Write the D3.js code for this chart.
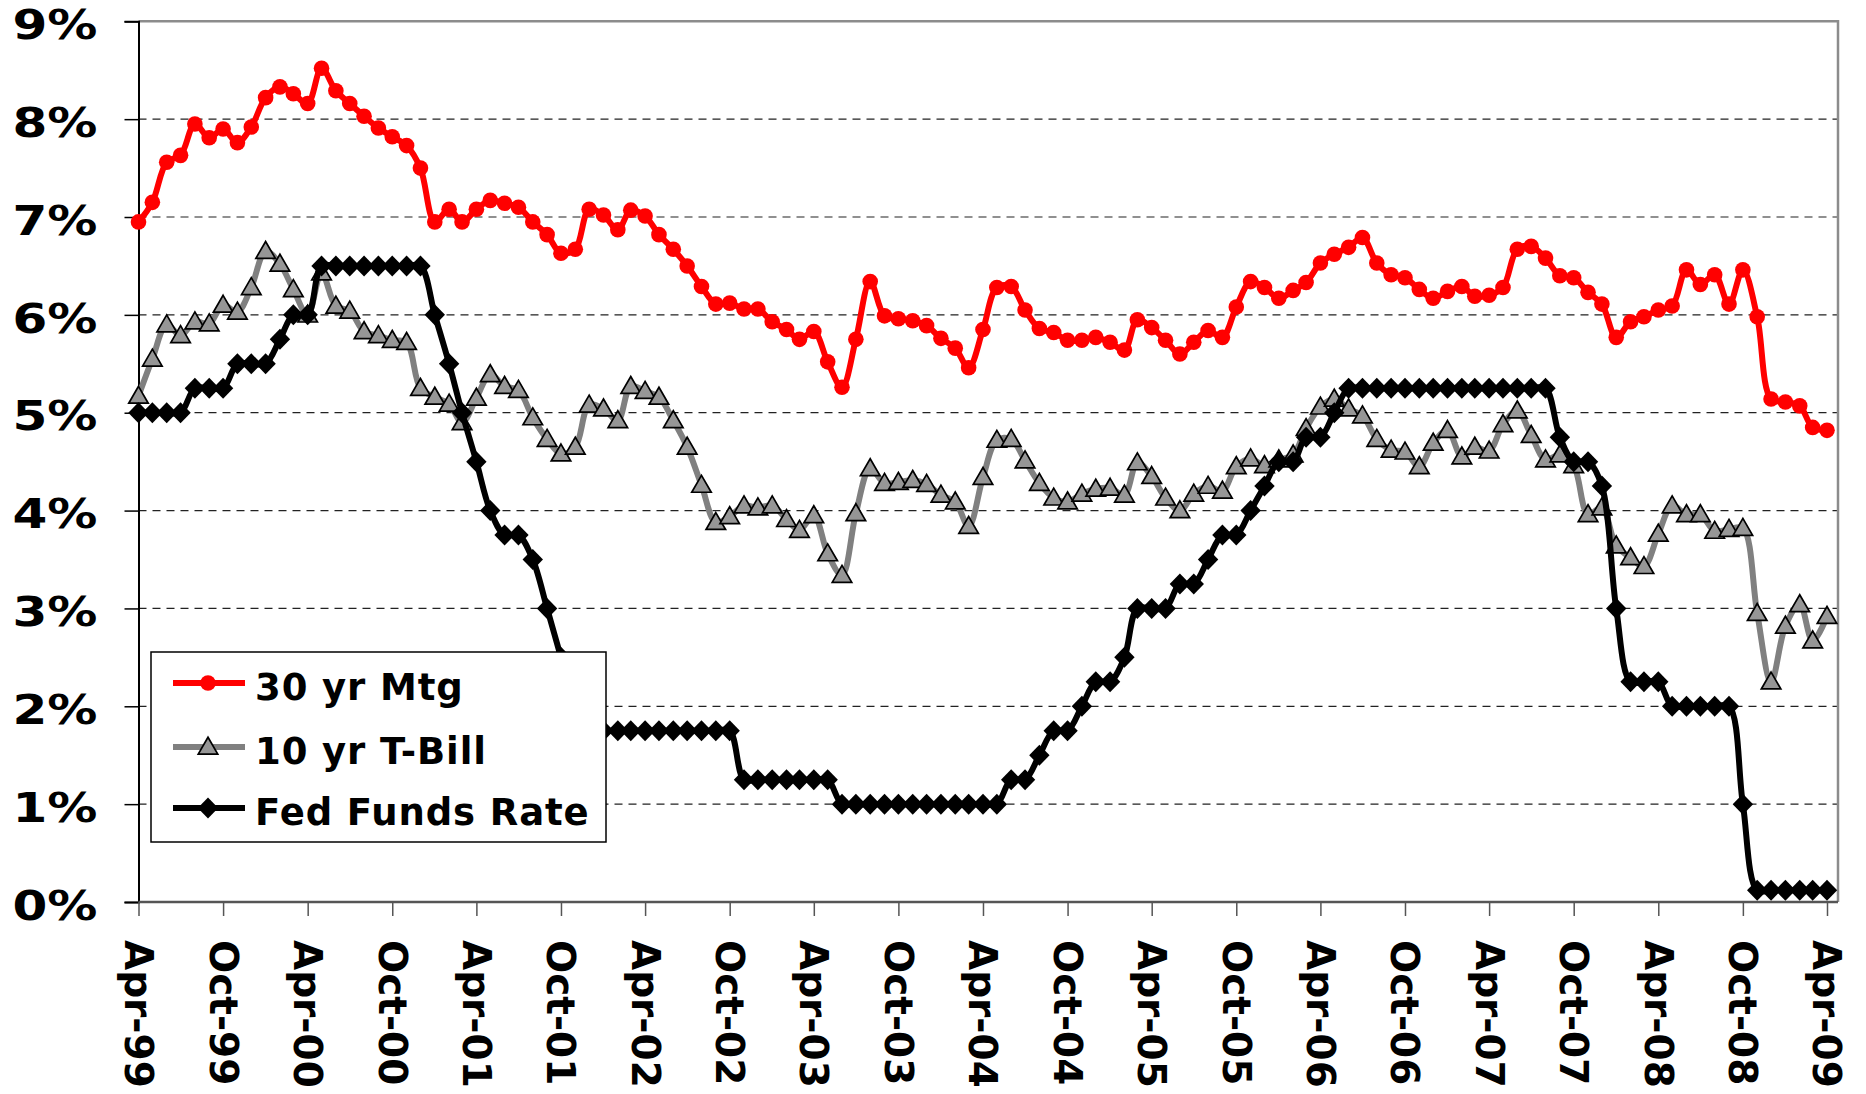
<!DOCTYPE html>
<html>
<head>
<meta charset="utf-8">
<script src="https://cdn.jsdelivr.net/npm/d3@7"></script>
<style>
  html, body { margin: 0; padding: 0; background: #fff; }
  text { font-family: "DejaVu Sans", Verdana, sans-serif; font-weight: bold; }
</style>
</head>
<body>
<svg id="chart" width="1866" height="1094"></svg>
<script>
// monthly values, Apr-99 .. Apr-09
const firstMonth = "Apr-99"
const lastMonth = "Apr-09"

const mortgage = [
  6.95, 7.15, 7.56, 7.63, 7.95, 7.81, 7.90, 7.76, 7.92, 8.22, 8.33, 8.26, 8.16, 8.52, 8.29, 8.16, 8.03, 7.91, 7.82, 7.73, 7.50,
  6.95, 7.08, 6.95, 7.08, 7.17, 7.14, 7.10, 6.95, 6.82, 6.63, 6.67, 7.08, 7.02, 6.87, 7.07, 7.01, 6.82, 6.67, 6.50, 6.29, 6.11,
  6.12, 6.06, 6.06, 5.93, 5.85, 5.75, 5.83, 5.52, 5.26, 5.75, 6.34, 5.99, 5.96, 5.94, 5.89, 5.76, 5.66, 5.46, 5.85, 6.28, 6.29,
  6.05, 5.86, 5.82, 5.74, 5.74, 5.77, 5.72, 5.64, 5.95, 5.87, 5.74, 5.60, 5.72, 5.84, 5.77, 6.08, 6.34, 6.28, 6.17, 6.25, 6.33,
  6.53, 6.62, 6.69, 6.79, 6.53, 6.41, 6.38, 6.26, 6.17, 6.24, 6.29, 6.19, 6.20, 6.28, 6.67, 6.70, 6.58, 6.40, 6.38, 6.23, 6.11,
  5.77, 5.93, 5.98, 6.05, 6.09, 6.46, 6.31, 6.41, 6.11, 6.46, 5.98, 5.14, 5.11, 5.07, 4.85, 4.82
]

const tbill = [
  5.17, 5.55, 5.90, 5.79, 5.93, 5.91, 6.10, 6.03, 6.28, 6.65, 6.52, 6.26, 6.00, 6.43, 6.09, 6.04, 5.83, 5.79, 5.74, 5.72, 5.25,
  5.16, 5.09, 4.90, 5.15, 5.39, 5.27, 5.23, 4.95, 4.73, 4.58, 4.65, 5.08, 5.04, 4.92, 5.27, 5.22, 5.16, 4.92, 4.65, 4.26, 3.88,
  3.94, 4.05, 4.03, 4.05, 3.91, 3.80, 3.95, 3.56, 3.34, 3.97, 4.43, 4.28, 4.29, 4.31, 4.27, 4.16, 4.09, 3.84, 4.34, 4.72, 4.73,
  4.51, 4.28, 4.13, 4.09, 4.17, 4.22, 4.23, 4.16, 4.49, 4.35, 4.13, 4.00, 4.17, 4.25, 4.20, 4.45, 4.53, 4.46, 4.52, 4.57, 4.84,
  5.06, 5.14, 5.04, 4.97, 4.73, 4.62, 4.60, 4.45, 4.69, 4.82, 4.55, 4.65, 4.61, 4.88, 5.02, 4.77, 4.52, 4.57, 4.46, 3.96, 4.03,
  3.64, 3.52, 3.43, 3.76, 4.05, 3.96, 3.96, 3.79, 3.81, 3.82, 2.95, 2.25, 2.82, 3.04, 2.67, 2.92
]

const fedFunds = [
  5.00, 5.00, 5.00, 5.00, 5.25, 5.25, 5.25, 5.50, 5.50, 5.50, 5.75, 6.00, 6.00, 6.50, 6.50, 6.50, 6.50, 6.50, 6.50, 6.50, 6.50,
  6.00, 5.50, 5.00, 4.50, 4.00, 3.75, 3.75, 3.50, 3.00, 2.50, 2.00, 1.75, 1.75, 1.75, 1.75, 1.75, 1.75, 1.75, 1.75, 1.75, 1.75,
  1.75, 1.25, 1.25, 1.25, 1.25, 1.25, 1.25, 1.25, 1.00, 1.00, 1.00, 1.00, 1.00, 1.00, 1.00, 1.00, 1.00, 1.00, 1.00, 1.00, 1.25,
  1.25, 1.50, 1.75, 1.75, 2.00, 2.25, 2.25, 2.50, 3.00, 3.00, 3.00, 3.25, 3.25, 3.50, 3.75, 3.75, 4.00, 4.25, 4.50, 4.50, 4.75,
  4.75, 5.00, 5.25, 5.25, 5.25, 5.25, 5.25, 5.25, 5.25, 5.25, 5.25, 5.25, 5.25, 5.25, 5.25, 5.25, 5.25, 4.75, 4.50, 4.50, 4.25,
  3.00, 2.25, 2.25, 2.25, 2.00, 2.00, 2.00, 2.00, 2.00, 1.00, 0.12, 0.12, 0.12, 0.12, 0.12, 0.12
]

const seriesNames = ["30 yr Mtg", "10 yr T-Bill", "Fed Funds Rate"]

const xTickLabels = ["Apr-99", "Oct-99", "Apr-00", "Oct-00", "Apr-01", "Oct-01", "Apr-02", "Oct-02",
  "Apr-03", "Oct-03", "Apr-04", "Oct-04", "Apr-05", "Oct-05", "Apr-06", "Oct-06", "Apr-07", "Oct-07",
  "Apr-08", "Oct-08", "Apr-09"]
const yTicks = [0, 1, 2, 3, 4, 5, 6, 7, 8, 9]

const parseMonth = d3.timeParse("%b-%y")
const months = d3.timeMonth.range(parseMonth(firstMonth), d3.timeMonth.offset(parseMonth(lastMonth), 1))

const svg = d3.select("#chart")
const plotLeft = 138.5, plotRight = 1838, plotTop = 21.3, plotBottom = 902

const x = d3.scaleTime([parseMonth(firstMonth), parseMonth(lastMonth)], [plotLeft, 1827])
const y = d3.scaleLinear([0, 9], [plotBottom, plotTop])

svg.append("rect").attr("width", 1866).attr("height", 1094).attr("fill", "#fff")

// gridlines
svg.append("g")
  .selectAll("line")
  .data(yTicks.filter(d => d > 0 && d < 9))
  .join("line")
  .attr("x1", plotLeft).attr("x2", plotRight)
  .attr("y1", d => y(d)).attr("y2", d => y(d))
  .attr("stroke", "#222")
  .attr("stroke-width", 1.2)
  .attr("stroke-dasharray", "8,6")

// plot frame (top + right)
svg.append("path")
  .attr("d", `M${plotLeft},${plotTop}H${plotRight}V${plotBottom}`)
  .attr("fill", "none")
  .attr("stroke", "#8c8c8c")
  .attr("stroke-width", 2.5)

// y axis
const yAxis = svg.append("g")
  .attr("transform", `translate(${plotLeft},0)`)
  .call(d3.axisLeft(y).tickValues(yTicks).tickFormat(d => d + "%").tickSize(14).tickPadding(27))
yAxis.select(".domain").attr("stroke", "#000").attr("stroke-width", 2)
yAxis.selectAll(".tick line").attr("stroke", "#000").attr("stroke-width", 1.5)
yAxis.selectAll("text")
  .attr("font-size", 40)
  .attr("fill", "#000")
  .attr("dy", "0.43em")
  .attr("textLength", 85)
  .attr("lengthAdjust", "spacingAndGlyphs")

// x axis
const xAxis = svg.append("g")
  .attr("transform", `translate(0,${plotBottom})`)
  .call(d3.axisBottom(x).tickValues(xTickLabels.map(parseMonth)).tickFormat(d3.timeFormat("%b-%y")).tickSize(14).tickSizeOuter(0))
xAxis.select(".domain").attr("d", `M${plotLeft},0H${plotRight}`).attr("stroke", "#555").attr("stroke-width", 2.5)
xAxis.selectAll(".tick line").attr("stroke", "#555").attr("stroke-width", 1.5)
xAxis.selectAll("text")
  .attr("font-size", 39)
  .attr("fill", "#000")
  .attr("transform", "rotate(90)")
  .attr("x", 38)
  .attr("y", 0)
  .attr("dy", "0.36em")
  .attr("text-anchor", "start")

// series
const line = d3.line()
  .x((d, i) => x(months[i]))
  .y(d => y(d))
  .curve(d3.curveCatmullRom)

const triangle = d3.symbol(d3.symbolTriangle, 165)()
const diamond = "M0,-10.5L10.2,0L0,10.5L-10.2,0Z"

const styles = [
  {values: mortgage, color: "#ff0000"},
  {values: tbill, color: "#808080"},
  {values: fedFunds, color: "#000000"}
]

function drawMarker(g, k) {
  if (k === 0) {
    g.append("circle").attr("r", 7.8).attr("fill", "#ff0000")
  } else if (k === 1) {
    g.append("path").attr("d", triangle).attr("transform", "translate(0,1.5)")
      .attr("fill", "#969696").attr("stroke", "#000").attr("stroke-width", 1.7)
  } else {
    g.append("path").attr("d", diamond).attr("fill", "#000")
  }
}

styles.forEach((s, k) => {
  const g = svg.append("g")
  g.append("path")
    .attr("d", line(s.values))
    .attr("fill", "none")
    .attr("stroke", s.color)
    .attr("stroke-width", 6)
    .attr("stroke-linejoin", "round")
  g.selectAll("g")
    .data(s.values)
    .join("g")
    .attr("transform", (d, i) => `translate(${x(months[i])},${y(d)})`)
    .each(function () { drawMarker(d3.select(this), k) })
})

// legend
const legend = svg.append("g")
legend.append("rect")
  .attr("x", 151).attr("y", 652).attr("width", 455).attr("height", 190)
  .attr("fill", "#fff").attr("stroke", "#000").attr("stroke-width", 1.5)
const rowY = [683, 747, 808]
seriesNames.forEach((name, k) => {
  const row = legend.append("g").attr("transform", `translate(0,${rowY[k]})`)
  row.append("line")
    .attr("x1", 173).attr("x2", 245)
    .attr("stroke", styles[k].color).attr("stroke-width", 6)
  drawMarker(row.append("g").attr("transform", "translate(208,0)"), k)
  row.append("text")
    .attr("x", 255)
    .attr("dy", "0.46em")
    .attr("font-size", 37)
    .attr("letter-spacing", 0.9)
    .attr("fill", "#000")
    .text(name)
})
</script>
</body>
</html>
